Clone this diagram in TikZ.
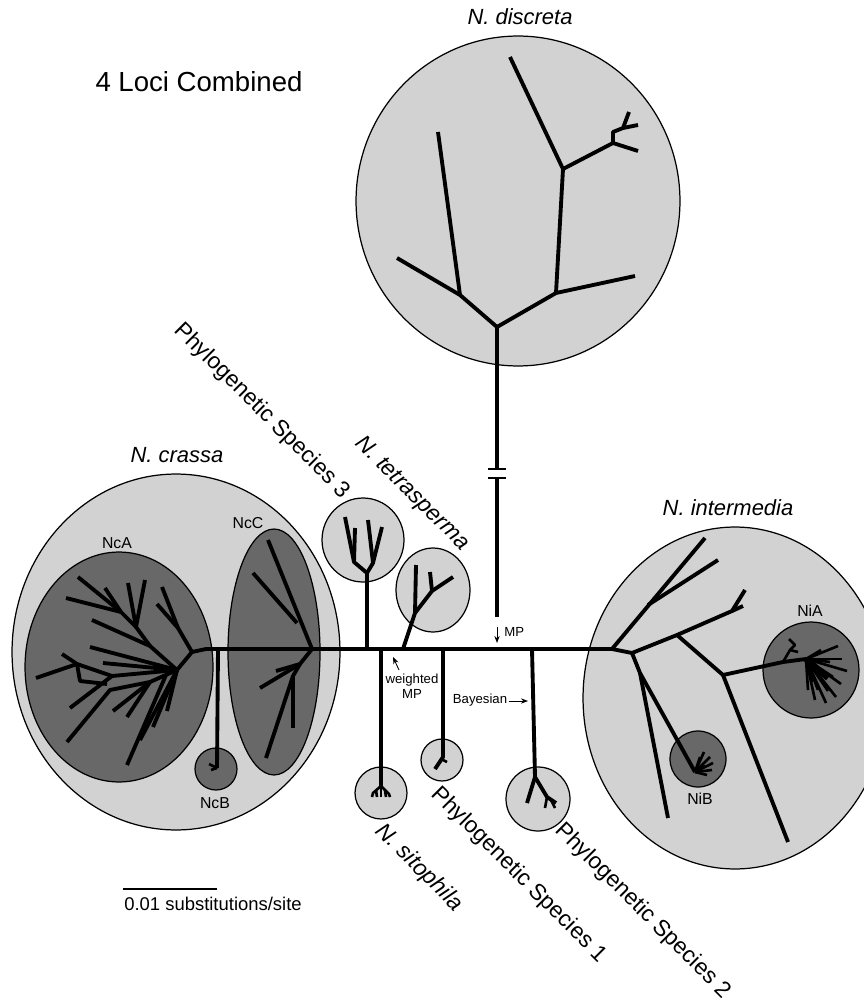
\documentclass[tikz,border=0pt]{standalone}
\usepackage{fontspec}
\setmainfont{Liberation Sans}
\usetikzlibrary{arrows.meta,shapes.geometric}
\definecolor{lightfill}{RGB}{210,210,210}
\definecolor{darkfill}{RGB}{104,104,104}
\begin{document}
\begin{tikzpicture}[x=0.02cm,y=-0.02cm,
  grp/.style={draw=black,line width=0.7pt,fill=lightfill,ellipse,inner sep=0pt,outer sep=0pt},
  subgrp/.style={draw=black,line width=0.7pt,fill=darkfill,ellipse,inner sep=0pt,outer sep=0pt},
  br/.style={line width=2.2pt,line join=round},
  tuft/.style={line width=1.5pt,line join=round},
  tick/.style={line width=1.5pt},
  it/.style={font=\fontsize{12.5}{14}\selectfont\itshape,inner sep=0pt},
  rotl/.style={font=\fontsize{13}{15}\selectfont,rotate=-45,inner sep=0pt},
  rotit/.style={font=\fontsize{13}{15}\selectfont\itshape,rotate=-45,inner sep=0pt},
  small/.style={font=\fontsize{7.5}{8.5}\selectfont,inner sep=0pt},
  clab/.style={font=\fontsize{9}{10}\selectfont,inner sep=0pt},
  arr/.style={-{Stealth[length=4pt,width=3pt]},line width=0.5pt}]
\useasboundingbox (0,0) rectangle (864,1003);
\clip (0,0) rectangle (864,1003);

% ---------- group circles ----------
\node[grp,minimum width=6.56cm,minimum height=7.12cm] (crassa) at (176,652) {};
\node[subgrp,minimum width=3.76cm,minimum height=4.6cm] (nca) at (119,667) {};
\node[subgrp,minimum width=1.84cm,minimum height=4.92cm] (ncc) at (274,652) {};
\node[subgrp,minimum width=0.84cm,minimum height=0.84cm] (ncb) at (216,769) {};
\node[grp,minimum width=6.48cm,minimum height=6.6cm] (discreta) at (518,201) {};
\node[grp,minimum width=6.08cm,minimum height=6.84cm] (inter) at (735,698) {};
\node[subgrp,minimum width=1.92cm,minimum height=1.92cm] (nia) at (811,670) {};
\node[subgrp,minimum width=1.12cm,minimum height=1.12cm] (nib) at (698,759) {};
\node[grp,minimum width=1.64cm,minimum height=1.68cm] (ps3) at (363,540) {};
\node[grp,minimum width=1.48cm,minimum height=1.68cm] (tetra) at (433,590) {};
\node[grp,minimum width=1.04cm,minimum height=1.04cm] (sito) at (381,793) {};
\node[grp,minimum width=0.84cm,minimum height=0.84cm] (ps1) at (442,760) {};
\node[grp,minimum width=1.28cm,minimum height=1.28cm] (ps2) at (538,799) {};

% ---------- backbone ----------
\coordinate (R0) at (192,652);
\coordinate (A) at (612,649);
\draw[br] (R0) -- (206,649) -- (A);

% ---------- N. crassa / NcA ----------
\coordinate (N1) at (177,670);
\draw[br] (R0) -- (N1);
\draw[br] (R0) -- (178,628) -- (162,587);
\draw[br] (178,628) -- (157,604);
\draw[br] (N1) -- (90,647);
\draw[br] (N1) -- (103,663);
\coordinate (U1) at (150,646);
\coordinate (U2) at (136,627);
\coordinate (U3) at (121,612);
\draw[br] (N1) -- (U1) -- (92,620);
\draw[br] (U1) -- (U2) -- (145,580);
\draw[br] (U2) -- (128,583);
\draw[br] (U2) -- (U3) -- (105,588);
\draw[br] (U3) -- (78,577);
\draw[br] (U3) -- (66,598);
\coordinate (M1) at (112,676);
\draw[br] (N1) -- (M1) -- (77,664) -- (36,678);
\draw[br] (77,664) -- (62,654);
\draw[br] (77,664) -- (80,681) -- (107,684);
\draw[br] (M1) -- (70,708);
\coordinate (L1) at (150,682);
\draw[br] (N1) -- (L1) -- (110,690) -- (67,742);
\draw[br] (L1) -- (113,711);
\draw[br] (L1) -- (127,717);
\draw[br] (166,675) -- (127,765);
\draw[br] (N1) -- (140,740);
\draw[br] (N1) -- (153,727);
\draw[br] (N1) -- (167,711);

% ---------- NcC ----------
\coordinate (C0) at (312,649);
\coordinate (C1) at (300,664);
\coordinate (C2) at (293,676);
\draw[br] (C0) -- (268,540);
\draw[br] (297,623) -- (253,573);
\draw[br] (C0) -- (C1) -- (260,688);
\draw[br] (C1) -- (276,671);
\draw[br] (C1) -- (C2) -- (266,758);
\draw[br] (C2) -- (293,728);

% ---------- NcB ----------
\draw[br] (218,649) -- (217,768);
\draw[tuft] (217,768) -- (209,764);
\draw[tuft] (217,768) -- (211,770);

% ---------- N. discreta ----------
\coordinate (D0) at (497,327);
\coordinate (DL) at (460,295);
\coordinate (DR) at (556,293);
\coordinate (DU) at (563,169);
\coordinate (DV) at (613,143);
\draw[br] (D0) -- (DL) -- (397,258);
\draw[br] (DL) -- (438,132);
\draw[br] (D0) -- (DR) -- (635,276);
\draw[br] (DR) -- (DU) -- (510,57);
\draw[br] (DU) -- (DV) -- (638,151);
\draw[br] (DV) -- (613,132) -- (623,128) -- (629,112);
\draw[br] (623,128) -- (638,125);
\coordinate (Dbreak1) at (497,469);
\coordinate (Dbreak2) at (497,478);
\coordinate (Dend) at (497,617);
\draw[br] (D0) -- (Dbreak1);
\draw[tick] (488,469) -- (506,469);
\draw[tick] (488,478) -- (506,478);
\draw[br] (Dbreak2) -- (Dend);

% ---------- N. intermedia ----------
\coordinate (B) at (632,653);
\coordinate (C) at (677,635);
\coordinate (D) at (732,611);
\coordinate (E) at (723,675);
\coordinate (F) at (640,673);
\draw[br] (A) -- (705,538);
\draw[br] (648,605) -- (718,560);
\draw[br] (A) -- (B) -- (C) -- (D) -- (745,590);
\draw[br] (D) -- (743,606);
\draw[br] (C) -- (E) -- (783,662) -- (806,659);
\draw[br] (E) -- (788,842);
\draw[br] (B) -- (F) -- (668,818);
\draw[br] (F) -- (695,772);
% NiA bush
\draw[tuft] (783,662) -- (790,650) -- (795,645) -- (789,639);
\draw[tuft] (790,650) -- (798,652);
\foreach \p in {(838,646),(842,659),(847,671),(841,684),(836,697),(826,703),(815,700),(808,690),(828,691),(821,650),(833,677),(818,690),(830,662),(812,682)}
  \draw[tuft] (806,659) -- \p;
\draw[line width=3.5pt] (806,659) -- (828,678);
% NiB bush
\foreach \p in {(704,752),(710,757),(713,763),(712,770),(707,775),(700,757),(705,766)}
  \draw[tuft] (695,772) -- \p;

% ---------- small species ----------
% Phylogenetic Species 3
\coordinate (P3) at (367,573);
\draw[br] (367,649) -- (P3);
\draw[br] (P3) -- (354,562) -- (345,517);
\draw[br] (354,562) -- (355,528);
\draw[br] (P3) -- (373,563) -- (368,520);
\draw[br] (373,563) -- (382,527);
% N. tetrasperma
\coordinate (T0) at (415,613);
\draw[br] (403,649) -- (T0) -- (416,565);
\draw[br] (T0) -- (432,591) -- (453,577);
\draw[br] (432,591) -- (430,572);
% N. sitophila
\draw[br] (381,649) -- (381,786);
\draw[tuft] (381,786) -- (373,793) -- (372,797);
\draw[tuft] (381,786) -- (389,794) -- (390,797);
\draw[tuft] (381,786) -- (381,797);
\draw[tuft] (376,790) -- (377,797);
\draw[tuft] (385,790) -- (386,797);
% Phylogenetic Species 1
\draw[br] (443,649) -- (443,757) -- (435,769);
\draw[tuft] (441,759) -- (447,762);
% Phylogenetic Species 2
\coordinate (P2) at (535,777);
\draw[br] (532,649) -- (P2);
\draw[br] (P2) -- (527,803);
\draw[br] (P2) -- (547,797) -- (556,803);
\draw[tuft] (547,797) -- (545,808);
\draw[tuft] (551,800) -- (555,808);

% ---------- labels ----------
\node[font=\fontsize{15.7}{18}\selectfont,inner sep=0pt] (title) at (199,82) {4 Loci Combined};
\node[it] (ldisc) at (520,17) {N. discreta};
\node[it] (lcrassa) at (177,455) {N. crassa};
\node[it] (linter) at (728,508) {N. intermedia};
\node[rotl] (lps3) at (262,411) {Phylogenetic Species 3};
\node[rotit] (ltetra) at (412,494) {N. tetrasperma};
\node[rotit] (lsito) at (419,868) {N. sitophila};
\node[rotl] (lps1) at (519,875) {Phylogenetic Species 1};
\node[rotl] (lps2) at (643,911) {Phylogenetic Species 2};
\node[clab] (lnca) at (117,543) {NcA};
\node[clab] (lncc) at (248,523) {NcC};
\node[clab] (lncb) at (215,803) {NcB};
\node[clab] (lnia) at (810,611) {NiA};
\node[clab] (lnib) at (700,799) {NiB};

% annotations
\coordinate (mpA) at (497,627);
\coordinate (mpB) at (497,643);
\draw[arr] (mpA) -- (mpB);
\node[small,anchor=west] (lmp) at (504,632) {MP};
\node[small,align=center] (lwmp) at (412,686) {weighted\\MP};
\coordinate (wA) at (399,670);
\coordinate (wB) at (393,657);
\draw[arr] (wA) -- (wB);
\node[small] (lbayes) at (480,700) {Bayesian};
\coordinate (bA) at (509,701);
\coordinate (bB) at (528,701);
\draw[arr] (bA) -- (bB);

% scale bar
\coordinate (sb1) at (123,889);
\coordinate (sb2) at (217,889);
\draw[line width=1.6pt] (sb1) -- (sb2);
\node[font=\fontsize{10.5}{12}\selectfont,inner sep=0pt] (lsb) at (213,904) {0.01 substitutions/site};
\end{tikzpicture}
\end{document}
